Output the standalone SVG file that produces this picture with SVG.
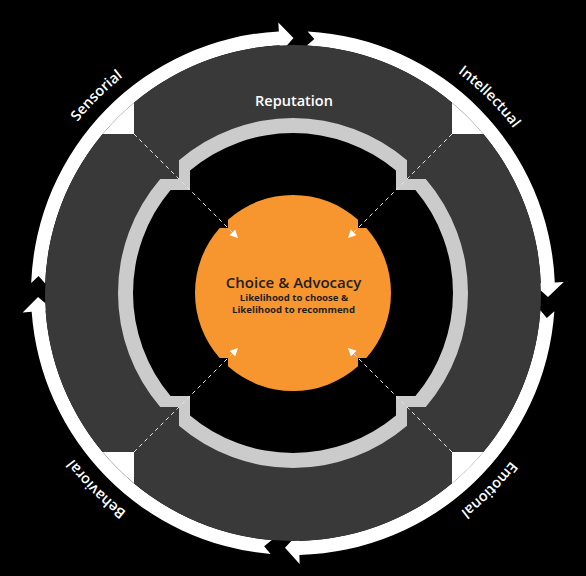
<svg xmlns="http://www.w3.org/2000/svg" width="586" height="576" viewBox="0 0 586 576">
  <style>
    .ring { fill: #ffffff; }
    .dark { fill: #393939; }
    .light { fill: #cbcbcb; }
    .hole { fill: #000000; }
    .core { fill: #f7962e; }
    .lbl { font-family: "Open Sans", "Liberation Sans", sans-serif; font-size: 14.5px; font-weight: 600; fill: #ffffff; }
    .title { font-family: "Open Sans", "Liberation Sans", sans-serif; font-size: 15px; font-weight: 600; fill: #1e1e1e; text-anchor: middle; }
    .sub { font-family: "Open Sans", "Liberation Sans", sans-serif; font-size: 9.6px; font-weight: 700; fill: #1e1e1e; text-anchor: middle; }
    .dash { stroke: #e6e6e6; stroke-width: 1; stroke-dasharray: 4 3.5; fill: none; marker-end: url(#ah); }
  </style>
  <defs>
    <marker id="ah" markerWidth="10" markerHeight="10" refX="8" refY="4" orient="auto" markerUnits="userSpaceOnUse">
      <path d="M0,0 L8,4 L0,8 Z" fill="#ffffff"/>
    </marker>
    <path id="textCircle" d="M 293 18 A 275 275 0 0 1 293 568 A 275 275 0 0 1 293 18"/>
  </defs>
  <rect width="586" height="576" fill="#000000"/>

  <g id="outer-cycle">
    <path class="ring" d="M 31.19 282.94 A 262 262 0 0 1 278.83 31.38 L 278.34 22.40 L 293.45 38 L 280.02 53.35 L 279.59 45.36 A 248 248 0 0 0 45.18 283.48 L 38.56 276.10 Z"/>
    <path class="ring" d="M 307.62 31.41 A 262 262 0 0 1 554.79 282.49 L 563.78 282.12 L 547.97 297.01 L 532.81 283.37 L 540.80 283.05 A 248 248 0 0 0 306.84 45.39 L 314.34 38.90 Z"/>
    <path class="ring" d="M 554.36 311.28 A 262 262 0 0 1 299.40 554.92 L 299.62 563.92 L 284.99 547.87 L 298.86 532.93 L 299.06 540.93 A 248 248 0 0 0 540.39 310.30 L 546.78 317.88 Z"/>
    <path class="ring" d="M 270.62 554.04 A 262 262 0 0 1 31.67 311.73 L 22.69 312.38 L 38.03 297.01 L 53.61 310.16 L 45.63 310.73 A 248 248 0 0 0 271.82 540.09 L 264.13 546.36 Z"/>
    <path class="ring" d="M 134 134 L 134 102.68 A 248 248 0 0 0 102.68 134 Z"/>
    <path class="ring" d="M 452 134 L 452 102.68 A 248 248 0 0 1 483.32 134 Z"/>
    <path class="ring" d="M 452 452 L 483.32 452 A 248 248 0 0 1 452 483.32 Z"/>
    <path class="ring" d="M 134 452 L 134 483.32 A 248 248 0 0 1 102.68 452 Z"/>
  </g>

  <g id="reputation">
    <path class="dark" d="M 134 102.68 A 248 248 0 0 1 452 102.68 L 452 134 L 483.32 134 A 248 248 0 0 1 483.32 452 L 452 452 L 452 483.32 A 248 248 0 0 1 134 483.32 L 134 452 L 102.68 452 A 248 248 0 0 1 102.68 134 L 134 134 Z"/>
    <text class="lbl" x="294" y="106" text-anchor="middle" font-size="15">Reputation</text>
  </g>

  <g id="inner-ring">
    <path class="light" d="M 179 160.23 A 175 175 0 0 1 407 160.23 L 407 179 L 425.77 179 A 175 175 0 0 1 425.77 407 L 407 407 L 407 425.77 A 175 175 0 0 1 179 425.77 L 179 407 L 160.23 407 A 175 175 0 0 1 160.23 179 L 179 179 Z"/>
    <path class="hole" d="M 190 170.56 A 160 160 0 0 1 396 170.56 L 396 190 L 415.44 190 A 160 160 0 0 1 415.44 396 L 396 396 L 396 415.44 A 160 160 0 0 1 190 415.44 L 190 396 L 170.56 396 A 160 160 0 0 1 170.56 190 L 190 190 Z"/>
  </g>

  <g id="choice-advocacy">
    <path class="core" d="M 228 219.66 A 98 98 0 0 1 358 219.66 L 358 228 L 366.34 228 A 98 98 0 0 1 366.34 358 L 358 358 L 358 366.34 A 98 98 0 0 1 228 366.34 L 228 358 L 219.66 358 A 98 98 0 0 1 219.66 228 L 228 228 Z"/>
    <text class="title" x="293.5" y="288">Choice &amp; Advocacy</text>
    <text class="sub" x="294" y="301">Likelihood to choose &amp;</text>
    <text class="sub" x="293.5" y="313">Likelihood to recommend</text>
  </g>

  <g id="connectors">
    <line class="dash" x1="134" y1="134" x2="238" y2="238"/>
    <line class="dash" x1="452" y1="134" x2="348" y2="238"/>
    <line class="dash" x1="452" y1="452" x2="348" y2="348"/>
    <line class="dash" x1="134" y1="452" x2="238" y2="348"/>
  </g>

  <g id="sensorial"><text class="lbl" text-anchor="middle"><textPath href="#textCircle" startOffset="1511.9">Sensorial</textPath></text></g>
  <g id="intellectual"><text class="lbl" text-anchor="middle"><textPath href="#textCircle" startOffset="216">Intellectual</textPath></text></g>
  <g id="emotional"><text class="lbl" text-anchor="middle"><textPath href="#textCircle" startOffset="648">Emotional</textPath></text></g>
  <g id="behavioral"><text class="lbl" text-anchor="middle"><textPath href="#textCircle" startOffset="1079.9">Behavioral</textPath></text></g>
</svg>
